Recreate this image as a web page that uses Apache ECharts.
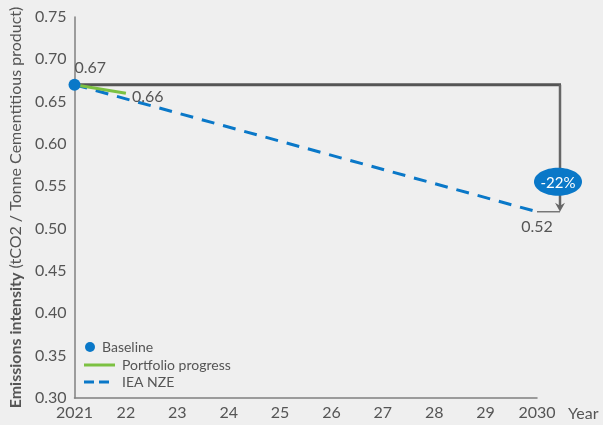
<!DOCTYPE html>
<html>
<head>
<meta charset="utf-8">
<script src="https://cdn.jsdelivr.net/npm/echarts@6/dist/echarts.min.js"></script>
<style>
html,body{margin:0;padding:0;background:#efefef;}
#chart{width:603px;height:425px;}
</style>
</head>
<body>
<div id="chart"></div>
<script>
const years = [2021, 2022, 2023, 2024, 2025, 2026, 2027, 2028, 2029, 2030];
const yearLabels = ['2021', '22', '23', '24', '25', '26', '27', '28', '29', '2030'];
const yTicks = ['0.30', '0.35', '0.40', '0.45', '0.50', '0.55', '0.60', '0.65', '0.70', '0.75'];
const baseline = [[2021, 0.67]];
const portfolioProgress = [[2021, 0.67], [2022, 0.66]];
const ieaNze = [[2021, 0.67], [2030, 0.52]];
const reduction = [[2021, 0.67, 2030, 0.52]];
const reductionLabel = ['-22%'];

const FONT = 'Lato';
const TXT = '#555555';
const BLUE = '#0a78c8';
const GREEN = '#7cc142';

const chart = echarts.init(document.getElementById('chart'), null, {renderer: 'canvas'});
chart.setOption({
  backgroundColor: '#efefef',
  animation: false,
  textStyle: {fontFamily: FONT, color: TXT},
  grid: {left: 71, right: 66, top: 17, bottom: 27, containLabel: false},
  legend: [
    {
      data: [{name: 'Baseline', icon: 'circle'}],
      orient: 'vertical', left: 85, top: 340, padding: 0,
      itemWidth: 10, itemHeight: 10,
      textStyle: {fontFamily: FONT, fontSize: 14, color: TXT, padding: [0, 0, 0, 2]}
    },
    {
      data: [
        {name: 'Portfolio progress', icon: 'path://M0,0H31V3H0Z'},
        {name: 'IEA NZE', icon: 'path://M0,0H10V3H0Z M15,0H25V3H15Z M30.9,0H31V0.05H30.9Z'}
      ],
      orient: 'vertical', left: 84, top: 358, padding: 0,
      itemWidth: 31, itemHeight: 3, itemGap: 3,
      textStyle: {fontFamily: FONT, fontSize: 14, color: TXT, lineHeight: 14, padding: [0, 0, 0, 2]}
    }
  ],
  xAxis: {
    type: 'value', min: years[0], max: years[years.length - 1], interval: 1,
    name: 'Year', nameLocation: 'end', nameGap: 31,
    nameTextStyle: {fontFamily: FONT, fontSize: 16, color: TXT, verticalAlign: 'top', padding: [8, 0, 0, 0]},
    axisLine: {lineStyle: {color: '#808080', width: 1.5}},
    axisTick: {show: false},
    splitLine: {show: false},
    axisLabel: {
      margin: 7, fontFamily: FONT, fontSize: 16, color: TXT,
      formatter: v => yearLabels[years.indexOf(Math.round(v))] || ''
    }
  },
  yAxis: {
    type: 'value', min: 0.30, max: 0.75, interval: 0.05,
    name: '{b|Emissions intensity} (tCO2 / Tonne Cementitious product)',
    nameLocation: 'middle', nameRotate: 90, nameGap: 48,
    nameTextStyle: {fontFamily: FONT, fontSize: 16, color: TXT,
      rich: {b: {fontFamily: FONT, fontSize: 16, fontWeight: 'bold', color: TXT}}},
    axisLine: {show: true, lineStyle: {color: '#808080', width: 1.5}},
    axisTick: {show: false},
    splitLine: {show: false},
    axisLabel: {
      margin: 8, fontFamily: FONT, fontSize: 16, color: TXT,
      formatter: v => yTicks[Math.round((v - 0.30) / 0.05)] || ''
    }
  },
  series: [
    {
      name: 'Reduction', type: 'custom', z: 1, clip: false, silent: true,
      data: reduction,
      encode: {x: [0, 2], y: [1, 3]},
      renderItem: function (params, api) {
        const p0 = api.coord([api.value(0), api.value(1)]);
        const p1 = api.coord([api.value(2), api.value(3)]);
        const xr = p1[0] + 23;
        const cy = p1[1] - 30;
        return {
          type: 'group',
          children: [
            {type: 'line', shape: {x1: p0[0], y1: p0[1], x2: xr + 1, y2: p0[1]}, style: {stroke: '#555', lineWidth: 3}},
            {type: 'line', shape: {x1: xr, y1: p0[1], x2: xr, y2: p1[1] - 4}, style: {stroke: '#666', lineWidth: 2.5}},
            {type: 'line', shape: {x1: p1[0], y1: p1[1], x2: xr, y2: p1[1]}, style: {stroke: '#777', lineWidth: 1.5}},
            {type: 'polygon', shape: {points: [[xr, p1[1]], [xr - 5, p1[1] - 9], [xr, p1[1] - 6], [xr + 5, p1[1] - 9]]}, style: {fill: '#666'}},
            {type: 'ellipse', shape: {cx: xr - 2, cy: cy, rx: 24, ry: 14}, style: {fill: BLUE}},
            {type: 'text', style: {text: reductionLabel[0], x: xr - 2, y: cy + 1, align: 'center', verticalAlign: 'middle', fill: '#fff', fontSize: 15, fontFamily: FONT}},
            {type: 'text', style: {text: api.value(3).toFixed(2), x: p1[0], y: p1[1] + 7, align: 'center', verticalAlign: 'top', fill: TXT, fontSize: 16, fontFamily: FONT}}
          ]
        };
      }
    },
    {
      name: 'IEA NZE', type: 'line', z: 2, symbol: 'none',
      data: ieaNze,
      lineStyle: {color: BLUE, width: 3, type: [13, 9]},
      itemStyle: {color: BLUE}
    },
    {
      name: 'Portfolio progress', type: 'line', z: 3, symbol: 'none',
      data: portfolioProgress,
      lineStyle: {color: GREEN, width: 3},
      itemStyle: {color: GREEN},
      endLabel: {show: true, formatter: p => p.value[1].toFixed(2), fontFamily: FONT, fontSize: 16, color: TXT, distance: 6, offset: [0, 4]}
    },
    {
      name: 'Baseline', type: 'scatter', z: 4,
      data: baseline, symbolSize: 12,
      itemStyle: {color: BLUE, opacity: 1},
      label: {show: true, position: 'top', align: 'left', offset: [0, 2],
        formatter: p => p.value[1].toFixed(2), fontFamily: FONT, fontSize: 16, color: TXT}
    }
  ]
});
</script>
</body>
</html>
